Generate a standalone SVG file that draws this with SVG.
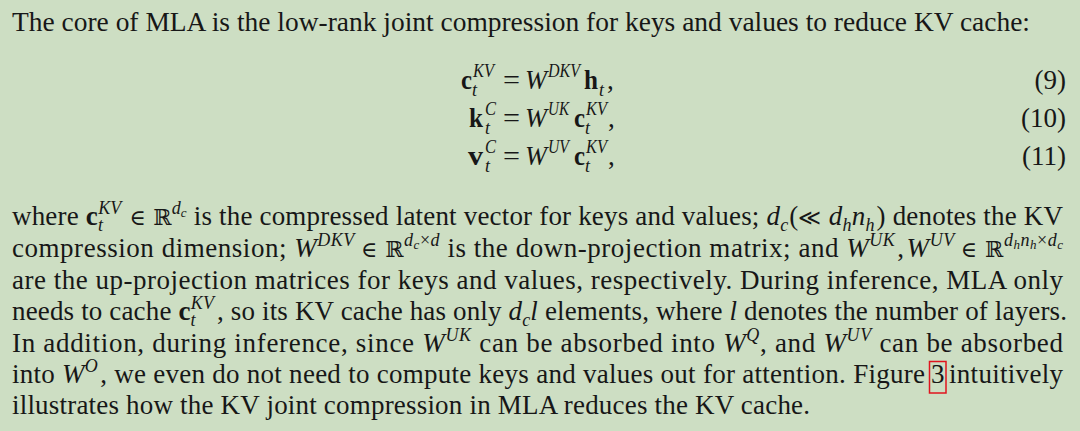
<svg xmlns="http://www.w3.org/2000/svg" width="1080" height="431" viewBox="0 0 1080 431">
<style>
text{font-family:"Liberation Serif","DejaVu Serif",serif;font-size:27px;fill:#171717}
.i{font-style:italic}
.b{font-weight:bold}
.s{font-size:18px}
.ss{font-size:13px}
.sym{font-family:"DejaVu Serif","Liberation Serif",serif;font-size:22px}
</style>
<rect width="1080" height="431" fill="#CDDEC3"/>
<g id="intro">
<text x="12" y="31" textLength="1018" lengthAdjust="spacingAndGlyphs">The core of MLA is the low-rank joint compression for keys and values to reduce KV cache:</text>
</g>
<g id="eq9">
<text x="461" y="89" class="b" textLength="11" lengthAdjust="spacingAndGlyphs">c</text>
<text x="472" y="96" class="i s">t</text>
<text x="473" y="77" class="i s" textLength="21" lengthAdjust="spacingAndGlyphs">KV</text>
<text x="503" y="89" textLength="17" lengthAdjust="spacingAndGlyphs">=</text>
<text x="525" y="89" class="i" textLength="22" lengthAdjust="spacingAndGlyphs">W</text>
<text x="548" y="77" class="i s" textLength="32" lengthAdjust="spacingAndGlyphs">DKV</text>
<text x="584" y="89" class="b" textLength="14" lengthAdjust="spacingAndGlyphs">h</text>
<text x="599" y="96" class="i s">t</text>
<text x="607" y="89">,</text>
<text x="1066" y="89" text-anchor="end">(9)</text>
</g>
<g id="eq10">
<text x="469" y="127" class="b" textLength="14" lengthAdjust="spacingAndGlyphs">k</text>
<text x="485" y="134" class="i s">t</text>
<text x="485" y="115" class="i s" textLength="11" lengthAdjust="spacingAndGlyphs">C</text>
<text x="503" y="127" textLength="17" lengthAdjust="spacingAndGlyphs">=</text>
<text x="525" y="127" class="i" textLength="22" lengthAdjust="spacingAndGlyphs">W</text>
<text x="548" y="115" class="i s" textLength="21" lengthAdjust="spacingAndGlyphs">UK</text>
<text x="574" y="127" class="b" textLength="11" lengthAdjust="spacingAndGlyphs">c</text>
<text x="585" y="134" class="i s">t</text>
<text x="586" y="115" class="i s" textLength="21" lengthAdjust="spacingAndGlyphs">KV</text>
<text x="608" y="127">,</text>
<text x="1066" y="127" text-anchor="end">(10)</text>
</g>
<g id="eq11">
<text x="468" y="165" class="b" textLength="15" lengthAdjust="spacingAndGlyphs">v</text>
<text x="485" y="172" class="i s">t</text>
<text x="485" y="153" class="i s" textLength="11" lengthAdjust="spacingAndGlyphs">C</text>
<text x="503" y="165" textLength="17" lengthAdjust="spacingAndGlyphs">=</text>
<text x="525" y="165" class="i" textLength="22" lengthAdjust="spacingAndGlyphs">W</text>
<text x="548" y="153" class="i s" textLength="21" lengthAdjust="spacingAndGlyphs">UV</text>
<text x="574" y="165" class="b" textLength="11" lengthAdjust="spacingAndGlyphs">c</text>
<text x="585" y="172" class="i s">t</text>
<text x="586" y="153" class="i s" textLength="21" lengthAdjust="spacingAndGlyphs">KV</text>
<text x="608" y="165">,</text>
<text x="1066" y="165" text-anchor="end">(11)</text>
</g>
<g id="paragraph">
<text x="12" y="225" textLength="1051" lengthAdjust="spacing">where <tspan class="b">c</tspan><tspan class="i s" dy="6">t</tspan><tspan class="i s" dx="-5" dy="-17">KV</tspan><tspan class="sym" dx="8" dy="11">∈ ℝ</tspan><tspan class="i s" dy="-11">d</tspan><tspan class="i ss" dy="3">c</tspan><tspan dy="8"> is the compressed latent vector for keys and values; </tspan><tspan class="i">d</tspan><tspan class="i s" dy="6">c</tspan><tspan dx="1" dy="-6">(</tspan><tspan class="sym">≪ </tspan><tspan class="i">d</tspan><tspan class="i s" dy="6">h</tspan><tspan class="i" dy="-6">n</tspan><tspan class="i s" dy="6">h</tspan><tspan dx="2" dy="-6">) denotes the KV</tspan></text>
<text x="12" y="257" textLength="1051" lengthAdjust="spacing">compression dimension; <tspan class="i">W</tspan><tspan class="i s" dy="-11">DKV</tspan><tspan class="sym" dx="6" dy="11">∈ ℝ</tspan><tspan class="i s" dy="-11">d</tspan><tspan class="i ss" dy="3">c</tspan><tspan class="s" dy="-3">×</tspan><tspan class="i s">d</tspan><tspan dy="11"> is the down-projection matrix; and </tspan><tspan class="i">W</tspan><tspan class="i s" dy="-11">UK</tspan><tspan dx="2" dy="11">,</tspan><tspan class="i" dx="2">W</tspan><tspan class="i s" dy="-11">UV</tspan><tspan class="sym" dx="6" dy="11">∈ ℝ</tspan><tspan class="i s" dy="-11">d</tspan><tspan class="i ss" dy="3">h</tspan><tspan class="i s" dy="-3">n</tspan><tspan class="i ss" dy="3">h</tspan><tspan class="s" dy="-3">×</tspan><tspan class="i s">d</tspan><tspan class="i ss" dy="3">c</tspan></text>
<text x="12" y="288.5" textLength="1051" lengthAdjust="spacing">are the up-projection matrices for keys and values, respectively. During inference, MLA only</text>
<text x="12" y="320" textLength="1055" lengthAdjust="spacing">needs to cache <tspan class="b">c</tspan><tspan class="i s" dy="6">t</tspan><tspan class="i s" dx="-5" dy="-17">KV</tspan><tspan dx="3" dy="11">, so its KV cache has only </tspan><tspan class="i">d</tspan><tspan class="i s" dy="6">c</tspan><tspan class="i" dy="-6">l</tspan> elements, where <tspan class="i">l</tspan> denotes the number of layers.</text>
<text x="12" y="352" textLength="1051" lengthAdjust="spacing">In addition, during inference, since <tspan class="i">W</tspan><tspan class="i s" dy="-11">UK</tspan><tspan dy="11"> can be absorbed into </tspan><tspan class="i">W</tspan><tspan class="i s" dy="-11">Q</tspan><tspan dy="11">, and </tspan><tspan class="i">W</tspan><tspan class="i s" dy="-11">UV</tspan><tspan dy="11"> can be absorbed</tspan></text>
<text x="12" y="383" textLength="913" lengthAdjust="spacing">into <tspan class="i">W</tspan><tspan class="i s" dy="-11">O</tspan><tspan dx="2" dy="11">, we even do not need to compute keys and values out for attention. Figure</tspan></text>
<rect x="929.5" y="361.5" width="16.5" height="31.5" fill="none" stroke="#E0141E" stroke-width="1.5"/>
<text x="931" y="383">3</text>
<text x="949" y="383" textLength="114" lengthAdjust="spacing">intuitively</text>
<text x="12" y="414" textLength="798" lengthAdjust="spacing">illustrates how the KV joint compression in MLA reduces the KV cache.</text>
</g>
</svg>
